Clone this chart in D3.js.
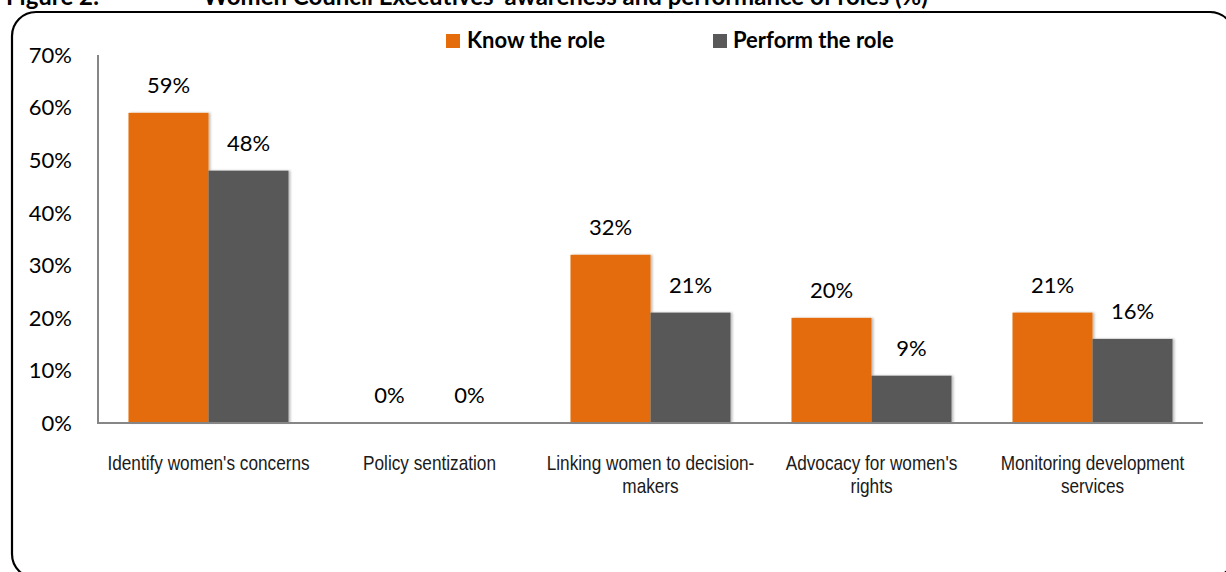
<!DOCTYPE html>
<html>
<head>
<meta charset="utf-8">
<script src="https://cdn.jsdelivr.net/npm/d3@7/dist/d3.min.js"></script>
<style>
  html, body { margin: 0; padding: 0; background: #fff; }
  svg { display: block; }
</style>
</head>
<body>
<svg id="chart" width="1226" height="572"></svg>
<script>
// Roles and the share of executives who know / perform each one (%)
const categories = [
  "Identify women's concerns",
  "Policy sentization",
  "Linking women to decision-makers",
  "Advocacy for women's rights",
  "Monitoring development services"
];
const categoryLines = [
  ["Identify women's concerns"],
  ["Policy sentization"],
  ["Linking women to decision-", "makers"],
  ["Advocacy for women's", "rights"],
  ["Monitoring development", "services"]
];
const seriesNames = ["Know the role", "Perform the role"];
const knowValues = [59, 0, 32, 20, 21];
const performValues = [48, 0, 21, 9, 16];
const yTicks = [0, 10, 20, 30, 40, 50, 60, 70];
const titleLead = "Figure 2:";
const titleText = "Women Council Executives' awareness and performance of roles (%)";

const colors = { "Know the role": "#E46C0A", "Perform the role": "#595959" };
const numFont = "Lato, 'Open Sans', sans-serif";
const catFont = "'Liberation Sans', Arial, sans-serif";

const svg = d3.select("#chart");

// Soft shadow to the right of each bar
const defs = svg.append("defs");
const f = defs.append("filter").attr("id", "barShadow")
  .attr("x", "-10%").attr("y", "-10%").attr("width", "130%").attr("height", "120%");
f.append("feDropShadow").attr("dx", 2).attr("dy", 0).attr("stdDeviation", 1)
  .attr("flood-color", "#000").attr("flood-opacity", 0.25);

// Title line above the frame
svg.append("text").attr("x", 6).attr("y", 5)
  .attr("font-family", numFont).attr("font-weight", "bold").attr("font-size", 24)
  .attr("fill", "#000").text(titleLead);
svg.append("text").attr("x", 203).attr("y", 5)
  .attr("font-family", numFont).attr("font-weight", "bold").attr("font-size", 24)
  .attr("fill", "#000").text(titleText);

// Rounded chart frame
svg.append("rect")
  .attr("x", 12).attr("y", 12).attr("width", 1222).attr("height", 566)
  .attr("rx", 24).attr("ry", 24)
  .attr("fill", "none").attr("stroke", "#000").attr("stroke-width", 2.2);

// Scales
const x = d3.scaleBand().domain(categories).range([98, 1203]).paddingInner(0).paddingOuter(0);
const xs = d3.scaleBand().domain(seriesNames).range([0, x.bandwidth()])
  .paddingInner(0).paddingOuter(0.381);
const y = d3.scaleLinear().domain([0, 70]).range([423, 55]);

const rows = categories.map((c, i) => ({
  cat: c,
  vals: [
    { s: seriesNames[0], v: knowValues[i] },
    { s: seriesNames[1], v: performValues[i] }
  ]
}));

// Y tick labels
svg.append("g").selectAll("text").data(yTicks).join("text")
  .attr("x", 72).attr("y", d => y(d))
  .attr("dy", "0.36em")
  .attr("text-anchor", "end")
  .attr("font-family", numFont).attr("font-size", 22).attr("fill", "#000")
  .text(d => d + "%");

// Bars
const groups = svg.append("g").selectAll("g").data(rows).join("g")
  .attr("transform", d => `translate(${x(d.cat)},0)`);

groups.selectAll("rect").data(d => d.vals).join("rect")
  .attr("x", d => xs(d.s))
  .attr("width", xs.bandwidth())
  .attr("y", d => y(d.v))
  .attr("height", d => y(0) - y(d.v))
  .attr("fill", d => colors[d.s])
  .attr("filter", "url(#barShadow)");

// Value labels
groups.selectAll("text").data(d => d.vals).join("text")
  .attr("x", d => xs(d.s) + xs.bandwidth() / 2)
  .attr("y", d => y(d.v) - 20)
  .attr("text-anchor", "middle")
  .attr("font-family", numFont).attr("font-size", 22).attr("fill", "#000")
  .text(d => d.v + "%");

// Axis lines
svg.append("line").attr("x1", 98).attr("x2", 98).attr("y1", y(70)).attr("y2", y(0))
  .attr("stroke", "#868686").attr("stroke-width", 2);
svg.append("line").attr("x1", 97).attr("x2", 1203).attr("y1", y(0)).attr("y2", y(0))
  .attr("stroke", "#868686").attr("stroke-width", 2);

// Category labels (condensed)
const catG = svg.append("g").selectAll("g").data(categories).join("g")
  .attr("transform", d => `translate(${x(d) + x.bandwidth() / 2},0) scale(0.82,1)`);
catG.each(function (d, i) {
  d3.select(this).selectAll("text").data(categoryLines[i]).join("text")
    .attr("x", 0)
    .attr("y", (t, j) => 470 + j * 23)
    .attr("text-anchor", "middle")
    .attr("font-family", catFont).attr("font-size", 21).attr("fill", "#1a1a1a")
    .text(t => t);
});

// Legend
const legendPos = [{ sx: 446, tx: 467 }, { sx: 713, tx: 733 }];
const lg = svg.append("g").selectAll("g").data(seriesNames).join("g");
lg.append("rect")
  .attr("x", (d, i) => legendPos[i].sx).attr("y", 34)
  .attr("width", 14).attr("height", 14)
  .attr("fill", d => colors[d]);
lg.append("text")
  .attr("x", (d, i) => legendPos[i].tx).attr("y", 48)
  .attr("font-family", numFont).attr("font-weight", "bold").attr("font-size", 22)
  .attr("fill", "#000")
  .text(d => d);
</script>
</body>
</html>
